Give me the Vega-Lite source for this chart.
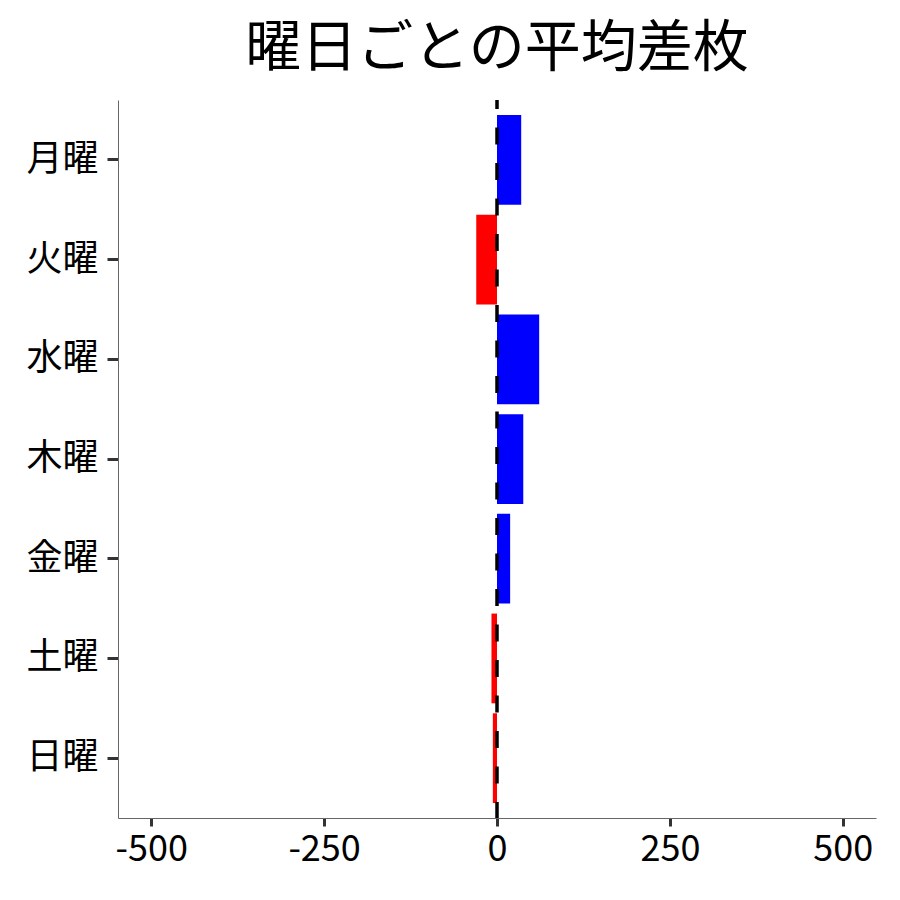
{
  "$schema": "https://vega.github.io/schema/vega-lite/v6.json",
  "autosize": "none",
  "width": 758,
  "height": 718,
  "padding": {"left": 118, "top": 100, "right": 24, "bottom": 82},
  "background": "white",
  "title": {
    "text": "曜日ごとの平均差枚",
    "font": "Noto Sans CJK JP",
    "fontSize": 56,
    "fontWeight": "normal",
    "color": "black",
    "anchor": "middle",
    "offset": 20
  },
  "config": {
    "view": {"stroke": null},
    "font": "Noto Sans CJK JP"
  },
  "data": {
    "values": [
      {"day": "月曜", "value": 35, "sign": "pos"},
      {"day": "火曜", "value": -30, "sign": "neg"},
      {"day": "水曜", "value": 61, "sign": "pos"},
      {"day": "木曜", "value": 38, "sign": "pos"},
      {"day": "金曜", "value": 19, "sign": "pos"},
      {"day": "土曜", "value": -8, "sign": "neg"},
      {"day": "日曜", "value": -6, "sign": "neg"}
    ]
  },
  "layer": [
    {
      "mark": {"type": "bar"},
      "encoding": {
        "y": {
          "field": "day",
          "type": "nominal",
          "sort": ["月曜", "火曜", "水曜", "木曜", "金曜", "土曜", "日曜"],
          "scale": {"paddingInner": 0.1, "paddingOuter": 0.15},
          "axis": {
            "title": null,
            "labelFont": "Noto Sans CJK JP",
            "labelFontSize": 36,
            "labelColor": "black",
            "labelPadding": 9,
            "tickSize": 11,
            "tickWidth": 3,
            "tickColor": "#333333",
            "domainColor": "#666666",
            "domainWidth": 1,
            "grid": false
          }
        },
        "x": {
          "field": "value",
          "type": "quantitative",
          "scale": {"domain": [-548, 548], "nice": false, "zero": false},
          "axis": {
            "title": null,
            "values": [-500, -250, 0, 250, 500],
            "labelExpr": "replace(datum.label, '−', '-')",
            "labelFont": "Noto Sans CJK JP",
            "labelFontSize": 36,
            "labelColor": "black",
            "labelPadding": 6,
            "tickSize": 8,
            "tickWidth": 3,
            "tickColor": "#333333",
            "domainColor": "#666666",
            "domainWidth": 1,
            "grid": false,
            "labelFlush": false
          }
        },
        "color": {
          "field": "sign",
          "type": "nominal",
          "scale": {"domain": ["pos", "neg"], "range": ["#0000FF", "#FF0000"]},
          "legend": null
        }
      }
    },
    {
      "data": {"values": [{"zero": 0}]},
      "mark": {"type": "rule", "color": "black", "strokeWidth": 3.5, "strokeDash": [17, 18.5], "strokeDashOffset": 8},
      "encoding": {
        "x": {"field": "zero", "type": "quantitative"}
      }
    }
  ]
}
